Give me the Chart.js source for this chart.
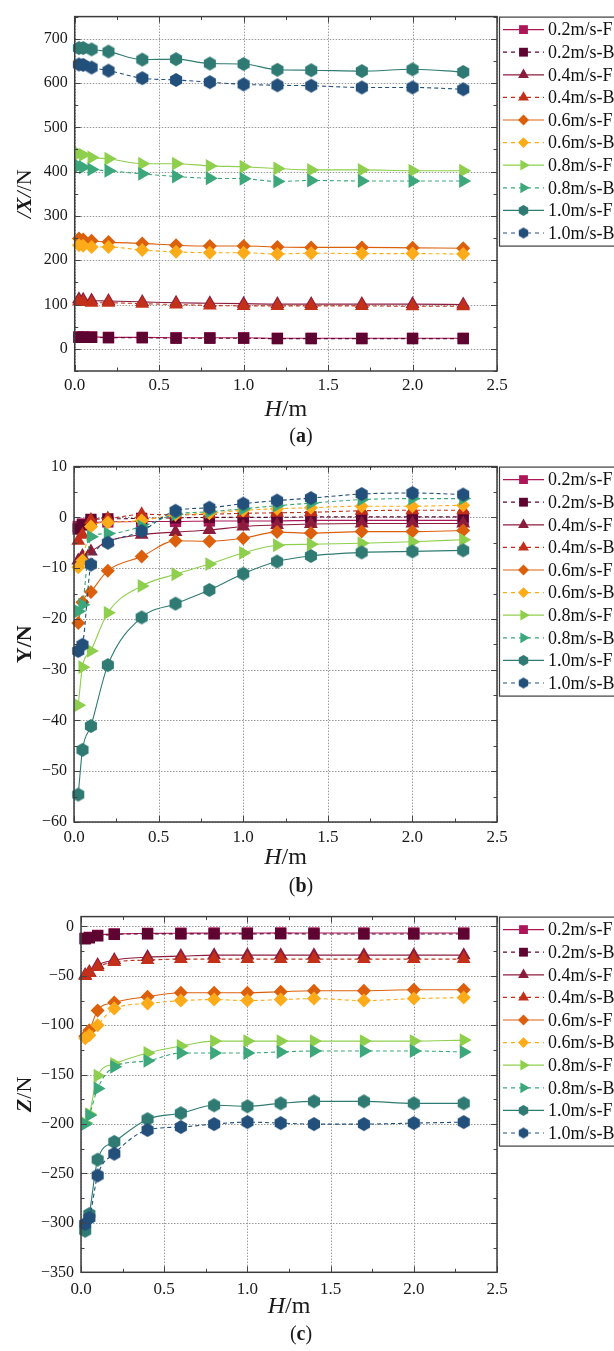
<!DOCTYPE html>
<html>
<head>
<meta charset="utf-8">
<script src="https://cdn.jsdelivr.net/npm/chart.js@4"></script>
<style>
  body { margin: 0; background: #fff; width: 614px; height: 1351px; overflow: hidden; }
  .panel { position: absolute; left: 0; width: 614px; }
</style>
</head>
<body>
<div class="panel" style="top:0"><canvas id="chartX" width="614" height="450"></canvas></div>
<div class="panel" style="top:450px"><canvas id="chartY" width="614" height="450"></canvas></div>
<div class="panel" style="top:900px"><canvas id="chartZ" width="614" height="451"></canvas></div>
<script>
const SERIF = '"Liberation Serif", "Times New Roman", serif';

// water depth H (m) shared by every series
const heights = [0.025, 0.05, 0.1, 0.2, 0.4, 0.6, 0.8, 1.0, 1.2, 1.4, 1.7, 2.0, 2.3];

const seriesNames = ['0.2m/s-F', '0.2m/s-B', '0.4m/s-F', '0.4m/s-B', '0.6m/s-F',
                     '0.6m/s-B', '0.8m/s-F', '0.8m/s-B', '1.0m/s-F', '1.0m/s-B'];
const seriesColors = ['#ad1659', '#5e0431', '#8c1c3c', '#c2301a', '#dc600c',
                      '#fdab19', '#8fcf4e', '#3ba77a', '#2f7b73', '#234f7b'];
const seriesMarkers = ['square', 'square', 'triangle', 'triangle', 'diamond',
                       'diamond', 'triangleRight', 'triangleRight', 'hexagon', 'hexagon'];

// |X| (N)
const x02F = [27, 27, 27, 26, 26, 25, 25, 25, 24, 24, 24, 24, 24];
const x02B = [26, 26, 26, 25, 25, 24, 24, 24, 23, 23, 23, 23, 23];
const x04F = [112, 111, 109, 108, 106, 104, 103, 102, 101, 101, 101, 101, 100];
const x04B = [107, 106, 104, 104, 102, 100, 98, 97, 97, 97, 97, 96, 96];
const x06F = [249, 247, 244, 241, 238, 234, 232, 232, 230, 229, 229, 228, 227];
const x06B = [234, 233, 230, 230, 223, 219, 217, 217, 214, 216, 215, 215, 214];
const x08F = [441, 438, 432, 429, 418, 418, 413, 411, 407, 404, 404, 402, 402];
const x08B = [413, 410, 405, 402, 395, 389, 385, 384, 378, 380, 379, 379, 379];
const x10F = [679, 679, 676, 671, 653, 654, 644, 643, 630, 629, 627, 631, 625];
const x10B = [642, 641, 635, 628, 611, 607, 602, 597, 595, 594, 590, 590, 586];

// Y (N)
const y02F = [-1.8, -1.3, -1.0, -0.9, -0.8, -0.8, -0.7, -0.7, -0.7, -0.6, -0.6, -0.6, -0.6];
const y02B = [-2.3, -1.5, -0.4, -0.3, -0.2, -0.1, 0, 0, 0, 0.1, 0.1, 0.1, 0.1];
const y04F = [-8.5, -7.6, -6.7, -4.7, -3.4, -2.9, -2.5, -1.8, -1.5, -1.3, -1.2, -1.2, -1.2];
const y04B = [-4.6, -3.4, -0.5, -0.2, 0.6, 0.5, 0.6, 0.8, 0.9, 1.0, 1.3, 1.4, 1.4];
const y06F = [-20.8, -16.7, -14.7, -10.5, -7.7, -4.6, -4.7, -4.1, -2.9, -3.1, -2.8, -2.8, -2.6];
const y06B = [-9.8, -8.5, -1.8, -1.0, -0.6, 0.5, 0.8, 1.4, 1.7, 1.9, 2.2, 2.2, 2.4];
const y08F = [-37.0, -29.5, -26.3, -18.8, -13.5, -11.2, -9.2, -7.0, -5.5, -5.3, -5.1, -4.8, -4.4];
const y08B = [-18.5, -17.2, -3.8, -3.2, -1.8, 0.6, 1.1, 1.7, 2.3, 2.8, 3.5, 3.7, 3.7];
const y10F = [-54.6, -45.8, -41.1, -29.1, -19.7, -17.0, -14.3, -11.1, -8.7, -7.6, -6.9, -6.7, -6.5];
const y10B = [-26.3, -25.1, -9.3, -5.0, -2.7, 1.3, 1.9, 2.7, 3.3, 3.8, 4.6, 4.8, 4.5];

// Z (N)
const z02F = [-12, -11, -9, -7.5, -7, -6.8, -6.6, -6.6, -6.5, -6.6, -6.6, -6.6, -6.6];
const z02B = [-12.5, -11.5, -9.5, -8, -7.5, -7.5, -7.5, -7.5, -7.3, -7.6, -7.6, -7.6, -7.6];
const z04F = [-49, -46, -39, -34, -31, -30, -29, -29, -29, -29, -29, -29, -29];
const z04B = [-50, -47, -41, -36, -34, -33, -33, -33, -33, -33, -33, -33, -33];
const z06F = [-111, -105, -85, -77, -71, -67, -67, -67, -66, -65, -65, -64, -64];
const z06B = [-113, -110, -100, -83, -78, -75, -74, -75, -74, -73, -75, -73, -72];
const z08F = [-199, -190, -151, -139, -128, -121, -116, -116, -116, -116, -116, -116, -115];
const z08B = [-200, -191, -164, -142, -136, -128, -128, -128, -127, -126, -126, -126, -127];
const z10F = [-308, -291, -236, -218, -195, -189, -181, -182, -179, -177, -177, -179, -179];
const z10B = [-301, -295, -252, -230, -206, -203, -200, -198, -199, -200, -200, -199, -198];

const hTicks = [0, 0.5, 1.0, 1.5, 2.0, 2.5];
const xForceTicks = [0, 100, 200, 300, 400, 500, 600, 700];
const yForceTicks = [-60, -50, -40, -30, -20, -10, 0, 10];
const zForceTicks = [-350, -300, -250, -200, -150, -100, -50, 0];

// Chart.js has no hexagon, so build one as an image point style
function hexagonImage(color, r) {
  const c = document.createElement('canvas');
  const s = Math.ceil(r * 2) + 2;
  c.width = c.height = s;
  const g = c.getContext('2d');
  g.fillStyle = color;
  g.beginPath();
  for (let k = 0; k < 6; k++) {
    const a = Math.PI / 3 * k - Math.PI / 2;
    const px = s / 2 + r * Math.cos(a), py = s / 2 + r * Math.sin(a);
    if (k) g.lineTo(px, py); else g.moveTo(px, py);
  }
  g.closePath();
  g.fill();
  return c;
}

function markerStyle(i, scale) {
  const kind = seriesMarkers[i];
  if (kind === 'square') return { pointStyle: 'rect', rotation: 0, radius: 8 * scale };
  if (kind === 'triangle') return { pointStyle: 'triangle', rotation: 0, radius: 8 * scale };
  if (kind === 'triangleRight') return { pointStyle: 'triangle', rotation: 90, radius: 8 * scale };
  if (kind === 'diamond') return { pointStyle: 'rectRot', rotation: 0, radius: 7 * scale };
  return { pointStyle: hexagonImage(seriesColors[i], 7 * scale), rotation: 0, radius: 7 * scale };
}

function buildDatasets(seriesValues) {
  return seriesValues.map((vals, i) => {
    const m = markerStyle(i, 1);
    return {
      label: seriesNames[i],
      data: heights.map((h, j) => ({ x: h, y: vals[j] })),
      borderColor: seriesColors[i],
      backgroundColor: seriesColors[i],
      borderWidth: 1.1,
      borderDash: i % 2 ? [4, 3] : [],
      cubicInterpolationMode: 'monotone',
      pointStyle: m.pointStyle,
      pointRotation: m.rotation,
      pointRadius: m.radius,
      pointHoverRadius: m.radius,
      pointBorderWidth: 0,
      clip: false,
      order: seriesValues.length - i,
    };
  });
}

function drawPieces(ctx, pieces, x, y, angle) {
  ctx.save();
  ctx.translate(x, y);
  ctx.rotate(angle);
  ctx.textBaseline = 'middle';
  ctx.textAlign = 'left';
  ctx.fillStyle = '#1a1a1a';
  let total = 0;
  pieces.forEach(p => { ctx.font = p.font; total += ctx.measureText(p.text).width; });
  let cx = -total / 2;
  pieces.forEach(p => {
    ctx.font = p.font;
    ctx.fillText(p.text, cx, 0);
    cx += ctx.measureText(p.text).width;
  });
  ctx.restore();
}

// dotted grid, framed box with inward ticks, rich axis titles, caption and legend
const panelDecor = {
  id: 'panelDecor',
  beforeDatasetsDraw(chart, args, opts) {
    const { ctx, chartArea: a, scales: { x, y } } = chart;
    ctx.save();
    ctx.strokeStyle = '#9a9a9a';
    ctx.lineWidth = 1;
    ctx.setLineDash([1.5, 1.5]);
    x.ticks.forEach(t => {
      const px = Math.round(x.getPixelForValue(t.value)) + 0.5;
      ctx.beginPath(); ctx.moveTo(px, a.top); ctx.lineTo(px, a.bottom); ctx.stroke();
    });
    y.ticks.forEach(t => {
      const py = Math.round(y.getPixelForValue(t.value)) + 0.5;
      ctx.beginPath(); ctx.moveTo(a.left, py); ctx.lineTo(a.right, py); ctx.stroke();
    });
    ctx.restore();
  },
  afterDraw(chart, args, opts) {
    const { ctx, chartArea: a, scales: { x, y } } = chart;
    ctx.save();

    // inward ticks on all four sides
    ctx.strokeStyle = '#444';
    ctx.lineWidth = 1;
    const tickAt = (scale, step) => {
      const out = [];
      for (let v = Math.ceil(scale.min / step - 1e-9) * step; v <= scale.max + 1e-9; v += step) out.push(v);
      return out;
    };
    const major = (v, step) => Math.abs(v / step - Math.round(v / step)) < 1e-6;
    tickAt(x, opts.xMinor).forEach(v => {
      const len = major(v, opts.xMajor) ? 6 : 3.5;
      const px = Math.round(x.getPixelForValue(v)) + 0.5;
      ctx.beginPath();
      ctx.moveTo(px, a.bottom); ctx.lineTo(px, a.bottom - len);
      ctx.moveTo(px, a.top); ctx.lineTo(px, a.top + len);
      ctx.stroke();
    });
    tickAt(y, opts.yMinor).forEach(v => {
      const len = major(v, opts.yMajor) ? 6 : 3.5;
      const py = Math.round(y.getPixelForValue(v)) + 0.5;
      ctx.beginPath();
      ctx.moveTo(a.left, py); ctx.lineTo(a.left + len, py);
      ctx.moveTo(a.right, py); ctx.lineTo(a.right - len, py);
      ctx.stroke();
    });

    // frame
    ctx.strokeStyle = '#3c3c3c';
    ctx.lineWidth = 1.5;
    ctx.strokeRect(a.left, a.top, a.right - a.left, a.bottom - a.top);

    // axis titles and caption
    drawPieces(ctx, opts.yTitle, 25, (a.top + a.bottom) / 2, -Math.PI / 2);
    drawPieces(ctx, [
      { text: 'H', font: 'italic 24px ' + SERIF },
      { text: '/m', font: '24px ' + SERIF },
    ], (a.left + a.right) / 2, opts.xTitleY, 0);
    drawPieces(ctx, [
      { text: '(', font: '20px ' + SERIF },
      { text: opts.tag, font: 'bold 20px ' + SERIF },
      { text: ')', font: '20px ' + SERIF },
    ], 301, opts.captionY, 0);

    // legend box to the right of the plot
    const lx = a.right + 2, ly = a.top, rowGap = 22.6;
    ctx.strokeStyle = '#3c3c3c';
    ctx.lineWidth = 1.2;
    ctx.strokeRect(lx + 0.5, ly + 0.5, 200, 229);
    chart.data.datasets.forEach((ds, i) => {
      const cy = ly + 13 + i * rowGap;
      ctx.strokeStyle = ds.borderColor;
      ctx.lineWidth = 1.2;
      ctx.setLineDash(i % 2 ? [4, 4] : []);
      ctx.beginPath(); ctx.moveTo(lx + 4, cy); ctx.lineTo(lx + 45, cy); ctx.stroke();
      ctx.setLineDash([]);
      const m = markerStyle(i, 0.78);
      ctx.fillStyle = ds.backgroundColor;
      Chart.helpers.drawPoint(ctx, { pointStyle: m.pointStyle, rotation: m.rotation, radius: m.radius, borderWidth: 0 }, lx + 24.5, cy);
      ctx.fillStyle = '#111';
      ctx.font = '18px ' + SERIF;
      ctx.textBaseline = 'middle';
      ctx.textAlign = 'left';
      ctx.fillText(ds.label, lx + 49, cy + 1);
    });
    ctx.restore();
  },
};

function makeChart(id, seriesValues, yTicks, cfg) {
  const tickFont = { family: SERIF, size: 16 };
  new Chart(document.getElementById(id), {
    type: 'line',
    data: { datasets: buildDatasets(seriesValues) },
    options: {
      responsive: false,
      animation: false,
      events: [],
      layout: { padding: { top: cfg.top, right: 117, left: 0, bottom: 0 } },
      plugins: {
        legend: { display: false },
        tooltip: { enabled: false },
        panelDecor: {
          yTitle: cfg.yTitle, tag: cfg.tag,
          xMajor: 0.5, xMinor: 0.25, yMajor: cfg.yMajor, yMinor: cfg.yMinor,
          xTitleY: cfg.xTitleY, captionY: cfg.captionY,
        },
      },
      scales: {
        x: {
          type: 'linear', min: 0, max: 2.5,
          afterBuildTicks: s => { s.ticks = hTicks.map(v => ({ value: v })); },
          afterFit: s => { s.height = cfg.xAxisHeight; },
          grid: { display: false, drawTicks: false },
          border: { display: false },
          ticks: { padding: cfg.xPad, color: '#1a1a1a', font: { family: SERIF, size: 17 },
                   maxRotation: 0, autoSkip: false, callback: v => v.toFixed(1) },
        },
        y: {
          type: 'linear', min: cfg.yMin, max: cfg.yMax,
          afterBuildTicks: s => { s.ticks = yTicks.map(v => ({ value: v })); },
          afterFit: s => { s.width = cfg.yAxisWidth; },
          grid: { display: false, drawTicks: false },
          border: { display: false },
          ticks: { padding: 7, color: '#1a1a1a', font: tickFont, autoSkip: false,
                   callback: v => String(v).replace('-', '\u2212') },
        },
      },
    },
    plugins: [panelDecor],
  });
}

makeChart('chartX', [x02F, x02B, x04F, x04B, x06F, x06B, x08F, x08B, x10F, x10B], xForceTicks, {
  top: 7, yMin: -50, yMax: 750, yMajor: 100, yMinor: 50,
  xAxisHeight: 79, xPad: 4, yAxisWidth: 74.7, xTitleY: 410, captionY: 437, tag: 'a',
  yTitle: [
    { text: '/', font: 'italic 22px ' + SERIF },
    { text: 'X', font: 'italic bold 22px ' + SERIF },
    { text: '/', font: 'italic 22px ' + SERIF },
    { text: '/N', font: '22px ' + SERIF },
  ],
});

makeChart('chartY', [y02F, y02B, y04F, y04B, y06F, y06B, y08F, y08B, y10F, y10B], yForceTicks, {
  top: 9, yMin: -60, yMax: 10, yMajor: 10, yMinor: 5,
  xAxisHeight: 78, xPad: 5, yAxisWidth: 74, xTitleY: 408, captionY: 437, tag: 'b',
  yTitle: [{ text: 'Y/N', font: 'bold 22px ' + SERIF }],
});

makeChart('chartZ', [z02F, z02B, z04F, z04B, z06F, z06B, z08F, z08B, z10F, z10B], zForceTicks, {
  top: 10, yMin: -350, yMax: 10, yMajor: 50, yMinor: 25,
  xAxisHeight: 78.7, xPad: 7, yAxisWidth: 81, xTitleY: 407, captionY: 435, tag: 'c',
  yTitle: [
    { text: 'Z', font: 'italic bold 22px ' + SERIF },
    { text: '/N', font: '22px ' + SERIF },
  ],
});
</script>
</body>
</html>
